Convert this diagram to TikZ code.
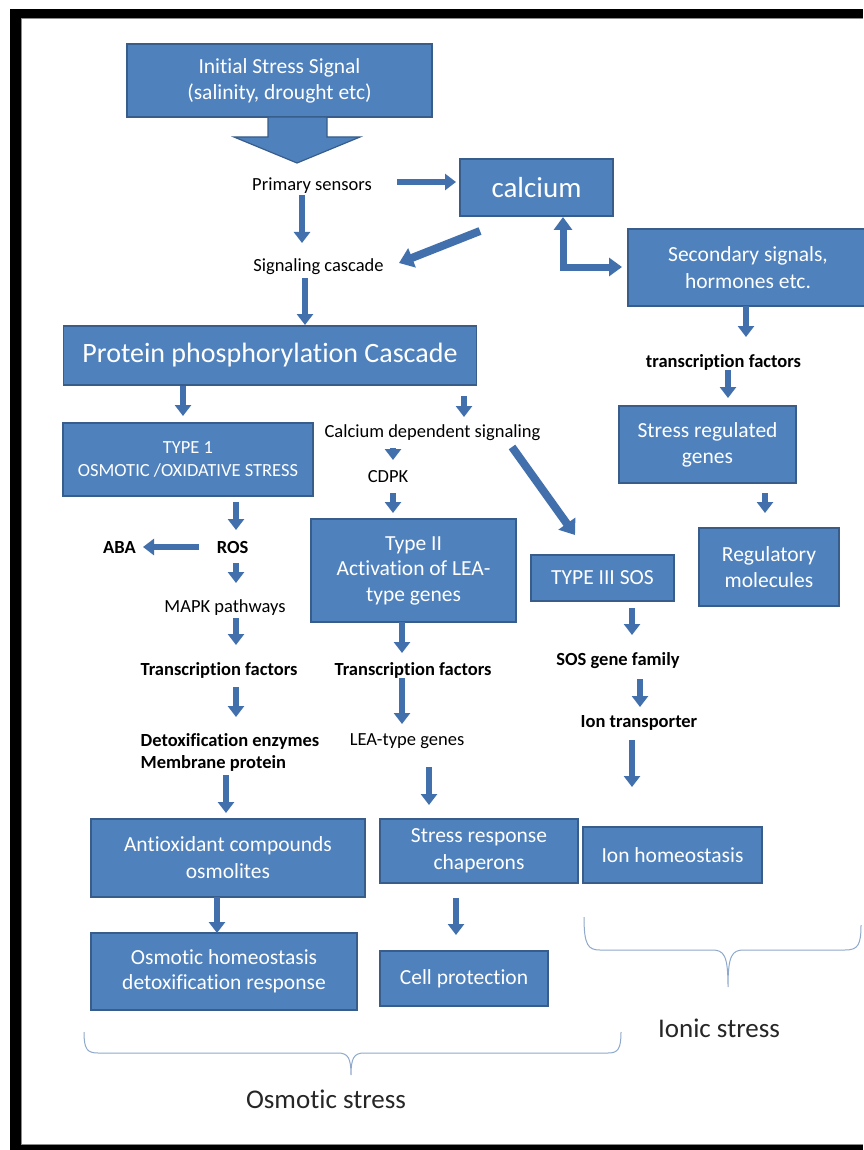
\documentclass[tikz,border=0pt]{standalone}
\usepackage{fontspec}
\setmainfont{Carlito}[Ligatures=NoCommon]
\usetikzlibrary{arrows.meta,calc}
\definecolor{boxfill}{HTML}{4F81BD}
\definecolor{boxline}{HTML}{385D8A}
\definecolor{arrc}{HTML}{4170AD}
\definecolor{bracec}{HTML}{8FA9CC}
\newcommand{\fsz}[2]{\fontsize{#1}{#2}\selectfont}
\tikzset{
  box/.style n args={2}{draw=boxline, line width=1.5pt, fill=boxfill, text=white,
    align=center, inner sep=0pt, minimum width=#1, minimum height=#2, font=\fsz{21.5}{26}},
  lbl/.style={align=center, inner sep=1pt, font=\fsz{18.5}{22}},
  blbl/.style={align=center, inner sep=1pt, font=\fsz{18.5}{22}\bfseries},
  big/.style={align=center, inner sep=1pt, font=\fsz{27}{32}, text=black!85},
  arr/.style={draw=arrc, line width=6pt, -{Triangle[width=16pt,length=11pt]}},
  oarr/.style={draw=arrc, line width=8pt, -{Triangle[width=20pt,length=14pt]}},
  darr/.style={draw=arrc, line width=7pt, {Triangle[width=18pt,length=13pt]}-{Triangle[width=18pt,length=13pt]}},
  bigarrow/.style={draw=boxline, line width=1.2pt, fill=boxfill},
  bracestyle/.style={draw=bracec, line width=1pt},
}
\begin{document}
\begin{tikzpicture}[x=1pt,y=-1pt]
\useasboundingbox (0,0) rectangle (863,1150);
\fill[white] (0,0) rectangle (863,1150);
% frame
\fill[black] (10,9) rectangle (863,18.5);
\fill[black] (10,9) rectangle (20.5,1150);
\fill[black] (10,1145) rectangle (863,1150);
\draw[black!45, line width=1pt] (21,1144) -- (21,19) -- (863,19);
\draw[black!45, line width=1pt] (21,1144) -- (863,1144);

% boxes
\node[box={305pt}{73pt}] (init) at (279.5,80.5) {Initial Stress Signal\\(salinity, drought etc)};
\node[box={153pt}{57pt}, font=\fsz{29}{34}] (calc) at (536.5,187.5) {calcium};
\node[box={240pt}{77pt}, font=\fsz{21.5}{27}] (sec) at (748,267.5) {Secondary signals,\\hormones etc.};
\node[box={413pt}{59pt}, font=\fsz{28}{33}] (prot) at (270,355.5) {Protein phosphorylation Cascade};
\node[box={250pt}{73pt}, font=\fsz{18.5}{23}] (type1) at (188,459.5) {TYPE 1\\OSMOTIC /OXIDATIVE STRESS};
\node[box={177pt}{77pt}] (streg) at (707.5,444.5) {Stress regulated\\genes};
\node[box={140pt}{78pt}] (regm) at (769,567) {Regulatory\\molecules};
\node[box={205pt}{103pt}, font=\fsz{21.5}{25.5}] (type2) at (413.5,570.5) {Type II\\Activation of LEA-\\type genes};
\node[box={143pt}{46pt}] (type3) at (602.5,578) {TYPE III SOS};
\node[box={274pt}{78pt}, font=\fsz{21.5}{27}] (antiox) at (228,858) {Antioxidant compounds\\osmolites};
\node[box={198pt}{64pt}, font=\fsz{21.5}{27}] (stresp) at (479,851) {Stress response\\chaperons};
\node[box={179pt}{56pt}] (ionh) at (672.5,855) {Ion homeostasis};
\node[box={266pt}{77pt}, font=\fsz{21.5}{25}] (osmh) at (224,971.5) {Osmotic homeostasis\\detoxification response};
\node[box={168pt}{55pt}] (cellp) at (464,978.5) {Cell protection};

% plain labels
\node[lbl] (prim) at (312,186) {Primary sensors};
\node[lbl] (sig) at (318.5,267) {Signaling cascade};
\node[blbl] (tf0) at (723.5,362) {transcription factors};
\node[lbl] (cds) at (432.5,433) {Calcium dependent signaling};
\node[lbl] (cdpk) at (388,477) {CDPK};
\node[blbl] (aba) at (119.5,547) {ABA};
\node[blbl] (ros) at (232.5,547) {ROS};
\node[lbl] (mapk) at (225,608) {MAPK pathways};
\node[blbl] (tf1) at (219,670) {Transcription factors};
\node[blbl] (tf2) at (413,670) {Transcription factors};
\node[blbl] (sosg) at (618,661) {SOS gene family};
\node[blbl] (iont) at (639,723) {Ion transporter};
\node[blbl, align=left] (detox) at (230,752) {Detoxification enzymes\\Membrane protein};
\node[lbl] (leag) at (407,741) {LEA-type genes};
\node[big] (osms) at (326,1099) {Osmotic stress};
\node[big] (ions) at (719,1028) {Ionic stress};

% big block arrow
\draw[bigarrow] ($(init)+(-11.5,36.5)$) -- ($(init)+(47.5,36.5)$) -- ($(init)+(47.5,56.5)$)
  -- ($(init)+(80.5,56.5)$) -- ($(init)+(17.5,82.5)$) -- ($(init)+(-45.5,56.5)$)
  -- ($(init)+(-11.5,56.5)$) -- cycle;

% connectors
\draw[arr] ($(prim)+(85,-4)$) -- ($(calc)+(-80.5,-5.5)$);
\draw[arr] ($(prim)+(-10,9)$) -- ($(sig)+(-16.5,-24)$);
\draw[oarr] ($(calc)+(-56.5,43.5)$) -- ($(sig)+(80.5,-4)$);
\draw[darr] ($(calc)+(26.5,29.5)$) -- ($(sec)+(-185,-0.5)$) -- ($(sec)+(-126,-0.5)$);
\draw[arr] ($(sig)+(-13.5,11)$) -- ($(prot)+(35,-30.5)$);
\draw[arr] ($(sec)+(-2,38.5)$) -- ($(tf0)+(22.5,-25)$);
\draw[arr] ($(tf0)+(4.5,8)$) -- ($(streg)+(20.5,-46.5)$);
\draw[arr] ($(streg)+(57.5,48.5)$) -- ($(regm)+(-4,-54)$);
\draw[arr] ($(prot)+(-87,30.5)$) -- ($(type1)+(-5,-43.5)$);
\draw[arr] ($(prot)+(194,40.5)$) -- ($(cds)+(31.5,-16)$);
\draw[arr] ($(cds)+(-39.5,15)$) -- ($(cdpk)+(5,-17)$);
\draw[arr] ($(cdpk)+(5,16)$) -- ($(type2)+(-20.5,-57.5)$);
\draw[oarr] ($(cds)+(79.5,14)$) -- ($(type3)+(-27.5,-43)$);
\draw[arr] ($(type1)+(48,42.5)$) -- ($(ros)+(3.5,-17)$);
\draw[arr] ($(ros)+(-33.5,0)$) -- ($(aba)+(23.5,0)$);
\draw[arr] ($(ros)+(3.5,16)$) -- ($(mapk)+(11,-25)$);
\draw[arr] ($(mapk)+(11,10)$) -- ($(tf1)+(17,-25)$);
\draw[arr] ($(type2)+(-11.5,51.5)$) -- ($(tf2)+(-11,-17)$);
\draw[arr] ($(type3)+(29.5,30)$) -- ($(sosg)+(14,-26)$);
\draw[arr] ($(tf1)+(17,17)$) -- ($(detox)+(6,-35)$);
\draw[arr] ($(tf2)+(-11,8)$) -- ($(leag)+(-5,-17)$);
\draw[arr] ($(sosg)+(22,18)$) -- ($(iont)+(1,-16)$);
\draw[arr] ($(iont)+(-7,17)$) -- ($(ionh)+(-40.5,-68)$);
\draw[arr] ($(detox)+(-4,23)$) -- ($(antiox)+(-2,-45)$);
\draw[arr] ($(leag)+(22,26)$) -- ($(stresp)+(-50,-46)$);
\draw[arr] ($(antiox)+(-11,39)$) -- ($(osmh)+(-7,-38.5)$);
\draw[arr] ($(stresp)+(-23,47)$) -- ($(cellp)+(-8,-43.5)$);

% braces
\draw[bracestyle] (584,917) .. controls (584,945) and (588,950) .. (600,950) -- (712,950)
  .. controls (724,950) and (728,955) .. (728,987)
  .. controls (728,955) and (732,950) .. (744,950) -- (845,950)
  .. controls (858,950) and (861,945) .. (861,925);
\draw[bracestyle] (84,1032) .. controls (84,1049) and (87,1053) .. (98,1053) -- (338,1053)
  .. controls (348,1053) and (351,1058) .. (351,1075)
  .. controls (351,1058) and (354,1053) .. (364,1053) -- (608,1053)
  .. controls (618,1053) and (621,1049) .. (621,1032);
\end{tikzpicture}
\end{document}
